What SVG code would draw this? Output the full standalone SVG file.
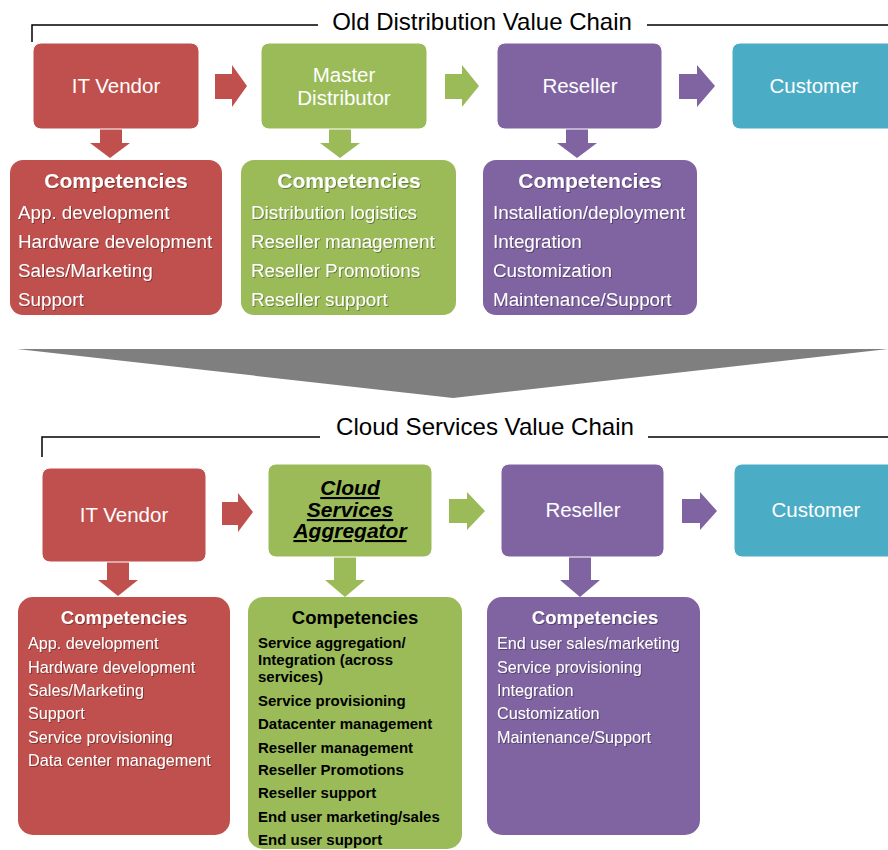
<svg xmlns="http://www.w3.org/2000/svg" width="888" height="850" viewBox="0 0 888 850">
<defs>
<filter id="sh" x="-5%" y="-20%" width="110%" height="140%">
<feDropShadow dx="1" dy="1" stdDeviation="0.4" flood-color="#000" flood-opacity="0.35"/>
</filter>
</defs>
<style>
text{font-family:"Liberation Sans",Arial,sans-serif}
.red{fill:#C0504D}.green{fill:#9BBB59}.purple{fill:#8064A2}.cyan{fill:#4BACC6}
.node rect{stroke:#fff;stroke-width:1}
.nt{fill:#fff;font-size:20.5px;text-anchor:middle}
.hd{fill:#fff;font-weight:bold;text-anchor:middle}
.it{fill:#fff;font-size:18.8px}
.it2{fill:#fff;font-size:16.2px}
.bk{fill:#000;font-weight:bold}
.title{fill:#000;font-size:24px}
.br{fill:none;stroke:#000;stroke-width:1.5}
</style>
<rect width="888" height="850" fill="#fff"/>

<!-- brackets and titles -->
<g id="titles">
<path class="br" d="M32,42 V25 H318 M647,25 H888"/>
<text class="title" x="482" y="30" text-anchor="middle">Old Distribution Value Chain</text>
<path class="br" d="M42,457 V437 H320 M648,437 H888"/>
<text class="title" x="485" y="435" text-anchor="middle" font-size="22" textLength="298" lengthAdjust="spacingAndGlyphs">Cloud Services Value Chain</text>
</g>

<!-- big transition triangle -->
<polygon id="transition" points="17,349 888,349 453,398" fill="#7F7F7F"/>

<!-- connectors -->
<g id="connectors">
<path class="red" d="M215,74 H232 V65 L247,86 L232,107 V99 H215 Z"/>
<path class="green" d="M445,74 H462 V65 L479,86 L462,107 V99 H445 Z"/>
<path class="purple" d="M679,74 H697 V65 L715,86 L697,107 V99 H679 Z"/>
<path class="red" d="M100,129 H122 V143 H130 L110,158 L90,143 H100 Z"/>
<path class="green" d="M329,129 H351 V143 H360 L340,158 L320,143 H329 Z"/>
<path class="purple" d="M566,129 H588 V143 H597 L577,158 L557,143 H566 Z"/>

<path class="red" d="M222,502 H238 V493 L253,512 L238,532 V525 H222 Z"/>
<path class="green" d="M449,499 H467 V492 L485,511 L467,530 V523 H449 Z"/>
<path class="purple" d="M682,499 H700 V492 L717,511 L700,530 V523 H682 Z"/>
<path class="red" d="M107,562 H129 V580 H138 L118,596 L98,580 H107 Z"/>
<path class="green" d="M334,557 H356 V580 H365 L345,597 L325,580 H334 Z"/>
<path class="purple" d="M569,557 H591 V580 H600 L580,597 L560,580 H569 Z"/>
</g>

<!-- top row -->
<g id="old-it-vendor" class="node">
<rect class="red" x="33" y="43" width="166" height="86" rx="8"/>
<text class="nt" x="116" y="93">IT Vendor</text>
</g>
<g id="old-master-distributor" class="node">
<rect class="green" x="261" y="43" width="166" height="86" rx="8"/>
<text class="nt" x="344" y="82">Master</text>
<text class="nt" x="344" y="105">Distributor</text>
</g>
<g id="old-reseller" class="node">
<rect class="purple" x="497" y="43" width="165" height="86" rx="8"/>
<text class="nt" x="580" y="93">Reseller</text>
</g>
<g id="old-customer" class="node">
<rect class="cyan" x="732" y="43" width="170" height="86" rx="8"/>
<text class="nt" x="814" y="93">Customer</text>
</g>

<g id="old-it-vendor-comp">
<rect class="red" x="10" y="160" width="212" height="155" rx="13"/>
<text class="hd" x="116" y="188" font-size="21" filter="url(#sh)">Competencies</text>
<g class="it" filter="url(#sh)">
<text x="18" y="219">App. development</text>
<text x="18" y="248">Hardware development</text>
<text x="18" y="277">Sales/Marketing</text>
<text x="18" y="306">Support</text>
</g>
</g>
<g id="old-master-distributor-comp">
<rect class="green" x="241" y="160" width="215" height="155" rx="13"/>
<text class="hd" x="349" y="188" font-size="21" filter="url(#sh)">Competencies</text>
<g class="it" filter="url(#sh)">
<text x="251" y="219">Distribution logistics</text>
<text x="251" y="248">Reseller management</text>
<text x="251" y="277">Reseller Promotions</text>
<text x="251" y="306">Reseller support</text>
</g>
</g>
<g id="old-reseller-comp">
<rect class="purple" x="483" y="160" width="214" height="155" rx="13"/>
<text class="hd" x="590" y="188" font-size="21" filter="url(#sh)">Competencies</text>
<g class="it" filter="url(#sh)">
<text x="493" y="219">Installation/deployment</text>
<text x="493" y="248">Integration</text>
<text x="493" y="277">Customization</text>
<text x="493" y="306">Maintenance/Support</text>
</g>
</g>

<!-- bottom row -->
<g id="new-it-vendor" class="node">
<rect class="red" x="42" y="468" width="164" height="94" rx="8"/>
<text class="nt" x="124" y="522">IT Vendor</text>
</g>
<g id="new-cloud-aggregator" class="node">
<rect class="green" x="268" y="464" width="164" height="93" rx="8"/>
<g font-size="21" font-weight="bold" font-style="italic" text-decoration="underline" text-anchor="middle" fill="#000">
<text x="350" y="495">Cloud</text>
<text x="350" y="517">Services</text>
<text x="350" y="538">Aggregator</text>
</g>
</g>
<g id="new-reseller" class="node">
<rect class="purple" x="501" y="464" width="163" height="93" rx="8"/>
<text class="nt" x="583" y="517">Reseller</text>
</g>
<g id="new-customer" class="node">
<rect class="cyan" x="734" y="464" width="170" height="93" rx="8"/>
<text class="nt" x="816" y="517">Customer</text>
</g>

<g id="new-it-vendor-comp">
<rect class="red" x="18" y="597" width="212" height="238" rx="15"/>
<text class="hd" x="124" y="624" font-size="18.5" filter="url(#sh)">Competencies</text>
<g class="it2" filter="url(#sh)">
<text x="28" y="649">App. development</text>
<text x="28" y="673">Hardware development</text>
<text x="28" y="696">Sales/Marketing</text>
<text x="28" y="719">Support</text>
<text x="28" y="743">Service provisioning</text>
<text x="28" y="766">Data center management</text>
</g>
</g>
<g id="new-cloud-aggregator-comp">
<rect class="green" x="248" y="597" width="214" height="252" rx="15"/>
<text class="bk" x="355" y="624" font-size="18.5" text-anchor="middle">Competencies</text>
<g class="bk" font-size="15">
<text x="258" y="648">Service aggregation/</text>
<text x="258" y="665">Integration (across</text>
<text x="258" y="682">services)</text>
<text x="258" y="706">Service provisioning</text>
<text x="258" y="729">Datacenter management</text>
<text x="258" y="753">Reseller management</text>
<text x="258" y="775">Reseller Promotions</text>
<text x="258" y="798">Reseller support</text>
<text x="258" y="822">End user marketing/sales</text>
<text x="258" y="845">End user support</text>
</g>
</g>
<g id="new-reseller-comp">
<rect class="purple" x="487" y="597" width="213" height="238" rx="15"/>
<text class="hd" x="595" y="624" font-size="18.5" filter="url(#sh)">Competencies</text>
<g class="it2" filter="url(#sh)">
<text x="497" y="649">End user sales/marketing</text>
<text x="497" y="673">Service provisioning</text>
<text x="497" y="696">Integration</text>
<text x="497" y="719">Customization</text>
<text x="497" y="743">Maintenance/Support</text>
</g>
</g>
</svg>
